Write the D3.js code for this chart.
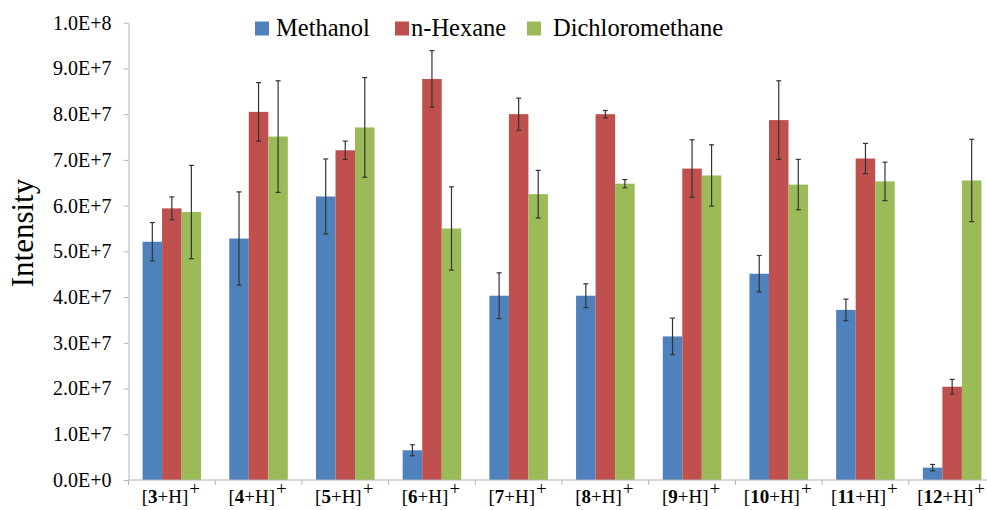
<!DOCTYPE html>
<html>
<head>
<meta charset="utf-8">
<script src="https://cdn.jsdelivr.net/npm/d3@7"></script>
<style>
  html, body { margin: 0; padding: 0; background: #fff; }
  svg { display: block; }
</style>
</head>
<body>
<svg id="chart" width="987" height="510"></svg>
<script>
// compound numbers for the [n+H]+ labels
var compounds = ["3", "4", "5", "6", "7", "8", "9", "10", "11", "12"];
var seriesNames = ["Methanol", "n-Hexane", "Dichloromethane"];
var seriesColors = ["#4f81bd", "#c0504d", "#9bbb59"];

// intensities (x 1e6) and error (+/-, x 1e6)
var methanol = [52.1, 52.8, 62.0, 6.5, 40.3, 40.3, 31.4, 45.1, 37.2, 2.7];
var methanolErr = [4.2, 10.2, 8.2, 1.2, 5.0, 2.6, 4.0, 4.0, 2.35, 0.7];
var hexane = [59.4, 80.5, 72.1, 87.7, 80.0, 80.0, 68.1, 78.7, 70.3, 20.4];
var hexaneErr = [2.5, 6.4, 2.0, 6.2, 3.5, 0.8, 6.3, 8.6, 3.3, 1.6];
var dcm = [58.6, 75.1, 77.1, 55.0, 62.5, 64.8, 66.6, 64.6, 65.3, 65.5];
var dcmErr = [10.2, 12.2, 10.9, 9.1, 5.2, 0.9, 6.7, 5.5, 4.2, 9.0];

var yTicks = [0, 1e7, 2e7, 3e7, 4e7, 5e7, 6e7, 7e7, 8e7, 9e7, 1e8];

var values = [methanol, hexane, dcm];
var errors = [methanolErr, hexaneErr, dcmErr];

var rows = [];
compounds.forEach(function (c, i) {
    seriesNames.forEach(function (s, j) {
        rows.push({ cat: c, series: s, idx: j, v: values[j][i] * 1e6, e: errors[j][i] * 1e6 });
    });
});

var margin = { top: 22.7, left: 128.5, bottom: 480 };
var svg = d3.select("#chart");
var font = "'Liberation Serif', 'Times New Roman', serif";

var x0 = d3.scaleBand()
    .domain(compounds)
    .range([margin.left, margin.left + 867]);
var x1 = d3.scaleBand()
    .domain(seriesNames)
    .range([0, x0.bandwidth()])
    .paddingOuter(0.72);
var y = d3.scaleLinear()
    .domain([0, 1e8])
    .range([margin.bottom, margin.top]);

function sci(v) {
    if (v === 0) return "0.0E+0";
    var e = Math.floor(Math.log10(v) + 1e-9);
    return (v / Math.pow(10, e)).toFixed(1) + "E+" + e;
}

// bars
svg.append("g")
    .selectAll("rect")
    .data(rows)
    .join("rect")
    .attr("x", function (d) { return x0(d.cat) + x1(d.series); })
    .attr("width", x1.bandwidth())
    .attr("y", function (d) { return y(d.v); })
    .attr("height", function (d) { return y(0) - y(d.v); })
    .attr("fill", function (d) { return seriesColors[d.idx]; });

// error bars
var eb = svg.append("g")
    .attr("stroke", "#333")
    .attr("stroke-width", 1.2)
    .selectAll("g")
    .data(rows)
    .join("g")
    .attr("transform", function (d) { return "translate(" + (x0(d.cat) + x1(d.series) + x1.bandwidth() / 2) + ",0)"; });
eb.append("line")
    .attr("y1", function (d) { return y(d.v + d.e); })
    .attr("y2", function (d) { return y(d.v - d.e); });
eb.append("line")
    .attr("x1", -2.5).attr("x2", 2.5)
    .attr("y1", function (d) { return y(d.v + d.e); })
    .attr("y2", function (d) { return y(d.v + d.e); });
eb.append("line")
    .attr("x1", -2.5).attr("x2", 2.5)
    .attr("y1", function (d) { return y(d.v - d.e); })
    .attr("y2", function (d) { return y(d.v - d.e); });

// y axis
var yAxis = svg.append("g")
    .attr("transform", "translate(" + margin.left + ",0)")
    .call(d3.axisLeft(y).tickValues(yTicks).tickFormat(sci).tickSize(5).tickSizeOuter(0).tickPadding(12));
yAxis.attr("font-family", font);
yAxis.selectAll("path, line").attr("stroke", "#b3b3b3");
yAxis.selectAll("text")
    .attr("font-family", font)
    .attr("font-size", "20px")
    .attr("fill", "#000");

// x axis
var xAxis = svg.append("g")
    .attr("transform", "translate(0," + margin.bottom + ")");
xAxis.append("line")
    .attr("x1", margin.left).attr("x2", x0.range()[1])
    .attr("stroke", "#b3b3b3");
xAxis.selectAll(".tk")
    .data(compounds.concat(["end"]))
    .join("line")
    .attr("class", "tk")
    .attr("x1", function (d, i) { return margin.left + i * x0.step(); })
    .attr("x2", function (d, i) { return margin.left + i * x0.step(); })
    .attr("y1", 0).attr("y2", 5)
    .attr("stroke", "#b3b3b3");
var lbl = xAxis.selectAll("text")
    .data(compounds)
    .join("text")
    .attr("x", function (d) { return x0(d) + x0.bandwidth() / 2 - 1; })
    .attr("y", 23)
    .attr("text-anchor", "middle")
    .attr("font-family", font)
    .attr("font-size", "19px")
    .attr("fill", "#000");
lbl.append("tspan").text("[");
lbl.append("tspan").attr("font-weight", "bold").text(function (d) { return d; });
lbl.append("tspan").text("+H]");
lbl.append("tspan").attr("dy", -8).attr("dx", 1).text("+");

// y title
svg.append("text")
    .attr("transform", "translate(33,233) rotate(-90)")
    .attr("text-anchor", "middle")
    .attr("font-family", font)
    .attr("font-size", "31px")
    .attr("fill", "#000")
    .text("Intensity");

// legend
var legendX = [255, 395, 527];
var legendTextX = [276, 411, 553];
var legend = svg.append("g")
    .selectAll("g")
    .data(seriesNames)
    .join("g");
legend.append("rect")
    .attr("x", function (d, i) { return legendX[i]; })
    .attr("y", 21.5)
    .attr("width", 14)
    .attr("height", 14)
    .attr("fill", function (d, i) { return seriesColors[i]; });
legend.append("text")
    .attr("x", function (d, i) { return legendTextX[i]; })
    .attr("y", 35.5)
    .attr("font-family", font)
    .attr("font-size", "24.5px")
    .attr("fill", "#000")
    .text(function (d) { return d; });
</script>
</body>
</html>
